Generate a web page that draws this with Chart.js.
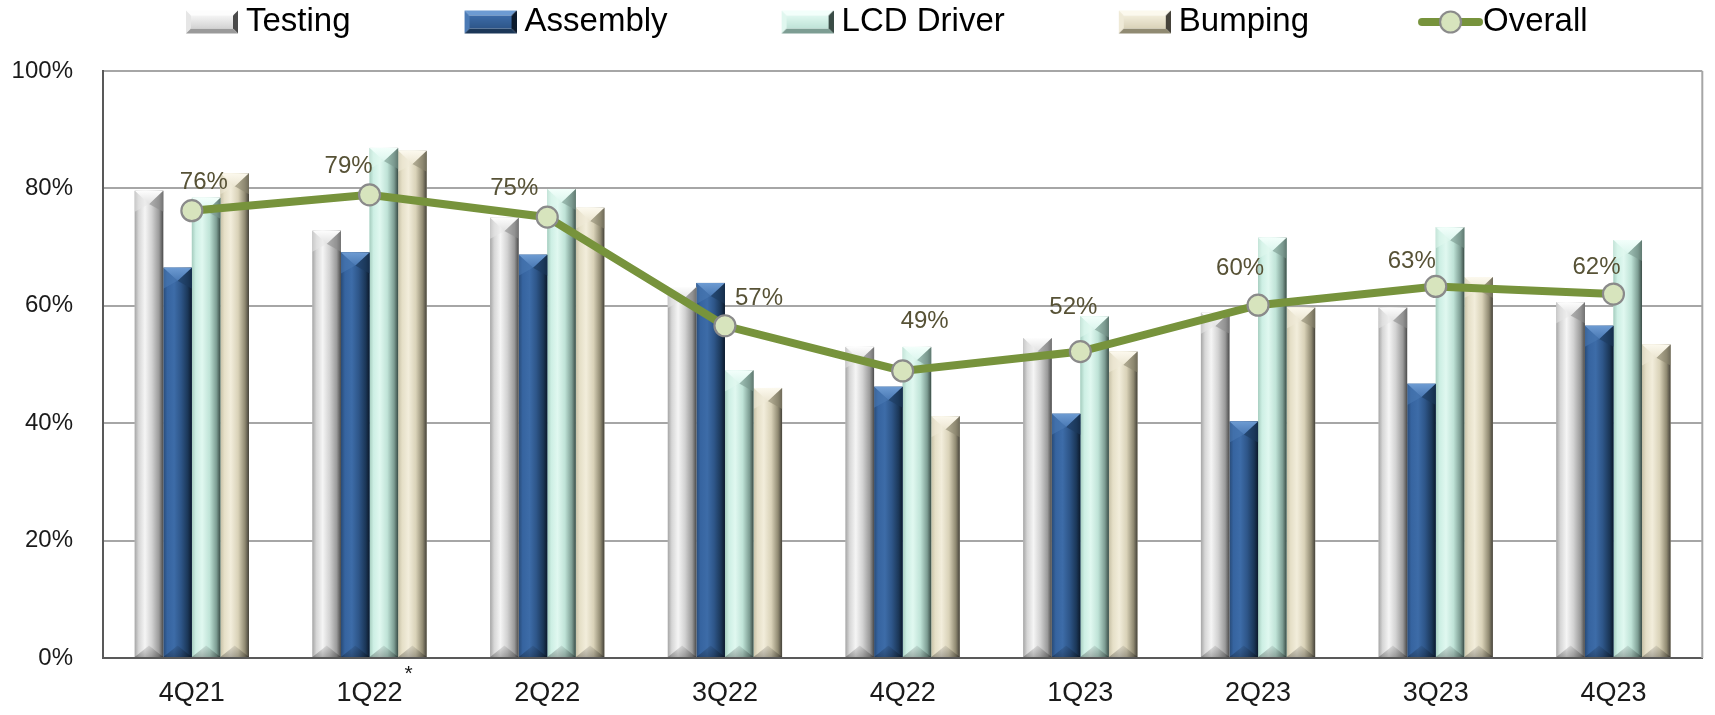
<!DOCTYPE html>
<html><head><meta charset="utf-8">
<script src="https://cdn.jsdelivr.net/npm/chart.js@4.4.1/dist/chart.umd.min.js"></script>
<style>html,body{margin:0;padding:0;background:#fff;overflow:hidden}#wrap{width:1715px;height:715px;position:relative}</style>
</head><body><div id="wrap"><canvas id="c"></canvas></div>
<script>
// ---------- data ----------
const categories = ['4Q21','1Q22','2Q22','3Q22','4Q22','1Q23','2Q23','3Q23','4Q23'];
const testing   = [79.6, 72.8, 75.0, 63.2, 53.0, 54.5, 58.8, 59.7, 60.6];
const assembly  = [66.5, 69.1, 68.7, 63.9, 46.2, 41.6, 40.3, 46.7, 56.6];
const lcdDriver = [78.4, 86.9, 79.9, 49.0, 53.0, 58.2, 71.6, 73.4, 71.2];
const bumping   = [82.6, 86.4, 76.7, 46.0, 41.2, 52.2, 59.7, 64.9, 53.4];
const overall   = [76.2, 78.9, 75.1, 56.6, 48.9, 52.2, 60.1, 63.3, 62.0];
const seriesNames = ['Testing','Assembly','LCD Driver','Bumping','Overall'];
const yTickValues = [0, 20, 40, 60, 80, 100];
const footnoteCategory = '1Q22';
const footnoteMark = '*';

// ---------- styles ----------
const FONT = "'Liberation Sans', Arial, sans-serif";
const LINE_COLOR = '#77933c';
const MARK_FILL = '#d7e4bd';
const MARK_EDGE = '#8a8a8a';
const LABEL_COLOR = '#575236';
const X_FS = 27;
// label offsets (style) relative to each Overall marker
const labelDx = [12, -21, -33, 34, 22, -7, -18, -24, -17];
const labelDy = [-28, -28, -29, -27, -50, -44, -37, -25, -27];

const barStyles = [
  {flat:'#cfcfcf', stops:[[0,'#a6a6a6'],[0.14,'#d6d6d6'],[0.36,'#f5f5f5'],[0.6,'#d2d2d2'],[0.85,'#9a9a9a'],[1,'#4a4a4a']], top:'#fdfdfd', topEnd:'#e2e2e2', lt:'#e6e6e6', rt:'#8e8e8e'},
  {flat:'#2f5b91', stops:[[0,'#284b78'],[0.14,'#3664a0'],[0.38,'#3d6ca8'],[0.62,'#2e5689'],[0.86,'#1b3758'],[1,'#0c1a2c']], top:'#6d9bd2', topEnd:'#4a79b4', lt:'#4b7ab5', rt:'#1d3a5e'},
  {flat:'#c6ebdf', stops:[[0,'#a6cdbf'],[0.14,'#cdefe4'],[0.36,'#e0f8f0'],[0.62,'#bfe3d7'],[0.86,'#7d9d93'],[1,'#3a4c46']], top:'#f3fffb', topEnd:'#dcf6ee', lt:'#e0f7ef', rt:'#7a988e'},
  {flat:'#e3ddc5', stops:[[0,'#c7c1a7'],[0.14,'#e5dfc7'],[0.36,'#f2eddb'],[0.62,'#d9d2b8'],[0.86,'#908a72'],[1,'#45423a']], top:'#fcf9ee', topEnd:'#ece6d2', lt:'#efead7', rt:'#8c876f'}
];

function drawBevelBar(ctx, L, R, top, bottom, st) {
  const w = R - L, xc = (L + R) / 2, h = bottom - top;
  if (h <= 0 || w <= 0) return;
  ctx.save();
  const g = ctx.createLinearGradient(L, 0, R, 0);
  st.stops.forEach(s => g.addColorStop(s[0], s[1]));
  ctx.fillStyle = g;
  ctx.fillRect(L, top, w, h);
  const d = Math.min(w * 0.46, h / 2);
  ctx.beginPath(); ctx.moveTo(L, top); ctx.lineTo(xc, top + d); ctx.lineTo(L, top + d * 1.6); ctx.closePath();
  ctx.fillStyle = st.lt; ctx.globalAlpha = 0.55; ctx.fill(); ctx.globalAlpha = 1;
  ctx.beginPath(); ctx.moveTo(R, top); ctx.lineTo(xc, top + d); ctx.lineTo(R, top + d * 1.6); ctx.closePath();
  ctx.fillStyle = st.rt; ctx.globalAlpha = 0.6; ctx.fill(); ctx.globalAlpha = 1;
  const tg = ctx.createLinearGradient(0, top, 0, top + d);
  tg.addColorStop(0, st.top); tg.addColorStop(1, st.topEnd);
  ctx.beginPath(); ctx.moveTo(L, top); ctx.lineTo(R, top); ctx.lineTo(xc, top + d); ctx.closePath();
  ctx.fillStyle = tg; ctx.fill();
  const db = Math.min(w * 0.4, h / 2);
  const bg = ctx.createLinearGradient(0, bottom - db, 0, bottom);
  bg.addColorStop(0, 'rgba(0,0,0,0.08)'); bg.addColorStop(1, 'rgba(0,0,0,0.28)');
  ctx.beginPath(); ctx.moveTo(L, bottom); ctx.lineTo(R, bottom); ctx.lineTo(xc, bottom - db); ctx.closePath();
  ctx.fillStyle = bg; ctx.fill();
  ctx.restore();
}

// ---------- legend icons ----------
const LEG_FS = 33, LEG_PAD = 5.5, LEG_W = 152, LEG_LEFT = 72;
function barIcon(st) {
  const iw = 52, ih = 23, gap = 8;
  const C = LEG_W + LEG_FS - 2 * gap;
  const cv = document.createElement('canvas'); cv.width = C; cv.height = 26;
  const c = cv.getContext('2d');
  const x0 = C - iw, y0 = (26 - ih) / 2, x1 = C, y1 = y0 + ih, d = 5;
  c.fillStyle = st.top; c.beginPath(); c.moveTo(x0, y0); c.lineTo(x1, y0); c.lineTo(x1 - d, y0 + d); c.lineTo(x0 + d, y0 + d); c.closePath(); c.fill();
  c.fillStyle = st.lt; c.beginPath(); c.moveTo(x0, y0); c.lineTo(x0 + d, y0 + d); c.lineTo(x0 + d, y1 - d); c.lineTo(x0, y1); c.closePath(); c.fill();
  c.fillStyle = st.stops[5][1]; c.beginPath(); c.moveTo(x1, y0); c.lineTo(x1 - d, y0 + d); c.lineTo(x1 - d, y1 - d); c.lineTo(x1, y1); c.closePath(); c.fill();
  c.fillStyle = st.stops[4][1]; c.beginPath(); c.moveTo(x0, y1); c.lineTo(x0 + d, y1 - d); c.lineTo(x1 - d, y1 - d); c.lineTo(x1, y1); c.closePath(); c.fill();
  const cg = c.createLinearGradient(0, y0 + d, 0, y1 - d);
  cg.addColorStop(0, st.stops[2][1]); cg.addColorStop(1, st.stops[3][1]);
  c.fillStyle = cg; c.fillRect(x0 + d, y0 + d, iw - 2 * d, ih - 2 * d);
  return cv;
}
function lineIcon() {
  const iw = 65, gap = 0;
  const C = LEG_W + LEG_FS - 2 * gap;
  const cv = document.createElement('canvas'); cv.width = C; cv.height = 26;
  const c = cv.getContext('2d');
  const x0 = C - iw, cy = 13;
  c.strokeStyle = LINE_COLOR; c.lineWidth = 8; c.lineCap = 'round';
  c.beginPath(); c.moveTo(x0 + 4, cy); c.lineTo(C - 4, cy); c.stroke();
  c.beginPath(); c.arc(x0 + iw / 2, cy, 10.5, 0, Math.PI * 2);
  c.fillStyle = MARK_FILL; c.fill(); c.lineWidth = 2.2; c.strokeStyle = MARK_EDGE; c.stroke();
  return cv;
}
const legendIcons = [barIcon(barStyles[0]), barIcon(barStyles[1]), barIcon(barStyles[2]), barIcon(barStyles[3]), lineIcon()];

// ---------- plugins ----------
const legendShift = {
  id: 'legendShift',
  afterLayout(chart) { if (chart.legend) chart.legend.left = LEG_LEFT; }
};
const bevelPlugin = {
  id: 'bevel',
  afterDatasetDraw(chart, args) {
    const meta = args.meta;
    if (meta.type !== 'bar') return;
    const st = barStyles[args.index];
    const ctx = chart.ctx, ca = chart.chartArea;
    ctx.save();
    ctx.beginPath(); ctx.rect(ca.left, ca.top - 2, ca.right - ca.left, ca.bottom - ca.top + 2); ctx.clip();
    meta.data.forEach(el => {
      const p = el.getProps(['x', 'y', 'base', 'width'], true);
      drawBevelBar(ctx, p.x - p.width / 2, p.x + p.width / 2, Math.min(p.y, p.base), Math.max(p.y, p.base), st);
    });
    ctx.restore();
  }
};
const framePlugin = {
  id: 'frame',
  beforeDatasetsDraw(chart) {
    const ctx = chart.ctx, ca = chart.chartArea;
    ctx.save(); ctx.strokeStyle = '#a6a6a6'; ctx.lineWidth = 2;
    ctx.beginPath(); ctx.moveTo(ca.right, ca.top); ctx.lineTo(ca.right, ca.bottom); ctx.stroke();
    ctx.restore();
  }
};
const labelPlugin = {
  id: 'lineLabels',
  afterDatasetsDraw(chart) {
    const idx = chart.data.datasets.findIndex(d => d.type === 'line');
    const meta = chart.getDatasetMeta(idx);
    const ctx = chart.ctx;
    ctx.save();
    ctx.font = '24px ' + FONT; ctx.fillStyle = LABEL_COLOR;
    ctx.textAlign = 'center'; ctx.textBaseline = 'middle';
    meta.data.forEach((pt, i) => {
      const v = chart.data.datasets[idx].data[i];
      ctx.fillText(Math.round(v) + '%', pt.x + labelDx[i], pt.y + labelDy[i]);
    });
    ctx.restore();
  },
  afterDraw(chart) {
    const xs = chart.scales.x, ctx = chart.ctx;
    const i = categories.indexOf(footnoteCategory);
    if (i < 0) return;
    ctx.save();
    ctx.font = X_FS + 'px ' + FONT;
    const tw = ctx.measureText(categories[i]).width;
    ctx.font = '21px ' + FONT; ctx.fillStyle = '#1a1a1a';
    ctx.textAlign = 'left'; ctx.textBaseline = 'middle';
    ctx.fillText(footnoteMark, xs.getPixelForValue(i) + tw / 2 + 2, xs.top + 16);
    ctx.restore();
  }
};

// ---------- chart ----------
const barSeries = [testing, assembly, lcdDriver, bumping];
const datasets = barSeries.map((arr, i) => ({
  type: 'bar', label: seriesNames[i], data: arr, order: 1,
  backgroundColor: barStyles[i].flat, borderWidth: 0,
  categoryPercentage: 0.643, barPercentage: 1.0
}));
datasets.push({
  type: 'line', label: seriesNames[4], data: overall, order: 0,
  borderColor: LINE_COLOR, borderWidth: 8, tension: 0,
  pointRadius: 10.5, pointHoverRadius: 10.5,
  pointBackgroundColor: MARK_FILL, pointBorderColor: MARK_EDGE, pointBorderWidth: 2.2
});

new Chart(document.getElementById('c'), {
  type: 'bar',
  data: { labels: categories, datasets },
  options: {
    responsive: true, maintainAspectRatio: false, animation: false,
    layout: { padding: { left: 0, right: 3, top: 0, bottom: 0 } },
    plugins: {
      tooltip: { enabled: false },
      legend: {
        display: true, position: 'top', align: 'start',
        labels: {
          usePointStyle: true, pointStyleWidth: LEG_W, padding: LEG_PAD,
          font: { size: LEG_FS, family: FONT }, color: '#000',
          generateLabels: (chart) => chart.data.datasets.map((ds, i) => ({
            text: ds.label, pointStyle: legendIcons[i], datasetIndex: i,
            hidden: !chart.isDatasetVisible(i), fillStyle: 'rgba(0,0,0,0)',
            strokeStyle: 'rgba(0,0,0,0)', lineWidth: 0, fontColor: '#000'
          }))
        }
      },
      title: { display: true, text: ' ', position: 'top', weight: 500,
        font: { size: 1, lineHeight: 1 }, padding: { top: 21.5, bottom: 0 } }
    },
    scales: {
      x: {
        grid: { display: false, drawTicks: false },
        border: { display: true, color: '#595959', width: 2 },
        ticks: { font: { size: X_FS, family: FONT }, color: '#1a1a1a', padding: 19, maxRotation: 0 },
        afterFit: (s) => { s.height = 57; }
      },
      y: {
        min: 0, max: 100,
        afterBuildTicks: (s) => { s.ticks = yTickValues.map(v => ({ value: v })); },
        grid: { color: '#a6a6a6', lineWidth: 2, drawTicks: false },
        border: { display: true, color: '#595959', width: 2 },
        ticks: { font: { size: 24, family: FONT }, color: '#1a1a1a', padding: 30,
          callback: (v) => v + '%' },
        afterFit: (s) => { s.width = 103; }
      }
    }
  },
  plugins: [legendShift, framePlugin, bevelPlugin, labelPlugin]
});
</script></body></html>
